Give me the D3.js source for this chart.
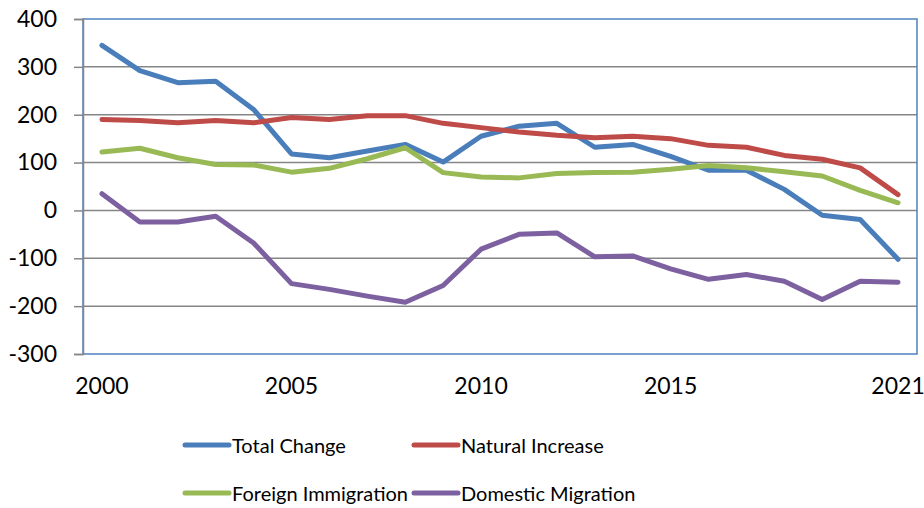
<!DOCTYPE html>
<html>
<head>
<meta charset="utf-8">
<script src="https://cdn.jsdelivr.net/npm/d3@7"></script>
<style>
  body { margin: 0; background: #fff; }
  text { fill: #000; }
</style>
</head>
<body>
<script>
var years = ["2000","2001","2002","2003","2004","2005","2006","2007","2008","2009","2010",
             "2011","2012","2013","2014","2015","2016","2017","2018","2019","2020","2021"];
var shownYears = ["2000","2005","2010","2015","2021"];
var yTicks = [-300,-200,-100,0,100,200,300,400];

var totalChange = [345,292,267,270,211,118,110,124,138,101,155,176,182,132,138,113,84,84,44,-10,-19,-102];
var naturalIncrease = [190,188,183,188,183,194,190,198,198,182,173,164,157,152,155,150,136,132,115,107,89,33];
var foreignImmigration = [122,130,110,96,95,80,88,108,131,79,70,68,77,79,80,86,94,89,81,72,42,16];
var domesticMigration = [35,-24,-24,-12,-68,-153,-165,-179,-192,-157,-81,-50,-47,-97,-95,-122,-144,-134,-148,-186,-148,-150];

var seriesNames = ["Total Change","Natural Increase","Foreign Immigration","Domestic Migration"];
var seriesColors = ["#4A7EBB","#BE4B48","#98B954","#7D60A0"];
var seriesValues = [totalChange, naturalIncrease, foreignImmigration, domesticMigration];

var w = 924, h = 508;
var plotLeft = 83, plotRight = 917, plotTop = 19, plotBottom = 354;

var svg = d3.select("body").append("svg")
	.attr("width", w)
	.attr("height", h);

var x = d3.scaleBand().domain(years).range([plotLeft, plotRight]);
var y = d3.scaleLinear().domain([-300, 400]).range([plotBottom, plotTop]);

// gridlines
svg.append("g")
	.selectAll("line")
	.data(yTicks.filter(function(d){ return d > -300 && d < 400; }))
	.enter().append("line")
	.attr("x1", plotLeft).attr("x2", plotRight)
	.attr("y1", function(d){ return y(d); })
	.attr("y2", function(d){ return y(d); })
	.attr("stroke", "#868686")
	.attr("stroke-width", 1.5);

// plot border (blue)
svg.append("rect")
	.attr("x", plotLeft).attr("y", plotTop)
	.attr("width", plotRight - plotLeft).attr("height", plotBottom - plotTop)
	.attr("fill", "none")
	.attr("stroke", "#4F81BD")
	.attr("stroke-width", 1.5);

// y axis (plain hyphen for negatives, like the original)
var yAxis = d3.axisLeft(y).tickValues(yTicks).tickSize(9).tickPadding(17)
	.tickFormat(function(d){ return String(d); });
var gy = svg.append("g").attr("transform", "translate(" + plotLeft + ",0)").call(yAxis);
gy.select(".domain").attr("stroke", "#868686").attr("stroke-width", 1.5);
gy.selectAll(".tick line").attr("stroke", "#868686").attr("stroke-width", 1.5);
gy.selectAll("text").attr("font-size", 23).attr("font-family", "Lato, sans-serif").attr("fill", "#000");

// x axis labels
var xAxis = d3.axisBottom(x).tickValues(shownYears).tickSize(0).tickPadding(24);
var gx = svg.append("g").attr("transform", "translate(0," + plotBottom + ")").call(xAxis);
gx.select(".domain").remove();
gx.selectAll("text").attr("font-size", 23).attr("font-family", "Lato, sans-serif").attr("fill", "#000");

// lines
var line = d3.line()
	.x(function(d, i){ return x(years[i]) + x.bandwidth() / 2; })
	.y(function(d){ return y(d); });

svg.append("g")
	.selectAll("path")
	.data(seriesValues)
	.enter().append("path")
	.attr("d", line)
	.attr("fill", "none")
	.attr("stroke", function(d, i){ return seriesColors[i]; })
	.attr("stroke-width", 5)
	.attr("stroke-linejoin", "round")
	.attr("stroke-linecap", "round");

// legend
var legendPos = [[185, 445], [414, 445], [185, 493], [414, 493]];
var legend = svg.append("g")
	.selectAll("g")
	.data(seriesNames)
	.enter().append("g")
	.attr("transform", function(d, i){ return "translate(" + legendPos[i][0] + "," + legendPos[i][1] + ")"; });

legend.append("line")
	.attr("x1", 0).attr("x2", 44)
	.attr("y1", 0).attr("y2", 0)
	.attr("stroke", function(d, i){ return seriesColors[i]; })
	.attr("stroke-width", 5)
	.attr("stroke-linecap", "round");

legend.append("text")
	.attr("x", 47)
	.attr("y", 8)
	.attr("font-size", 20)
	.attr("font-family", "Lato, sans-serif")
	.text(function(d){ return d; });
</script>
</body>
</html>
